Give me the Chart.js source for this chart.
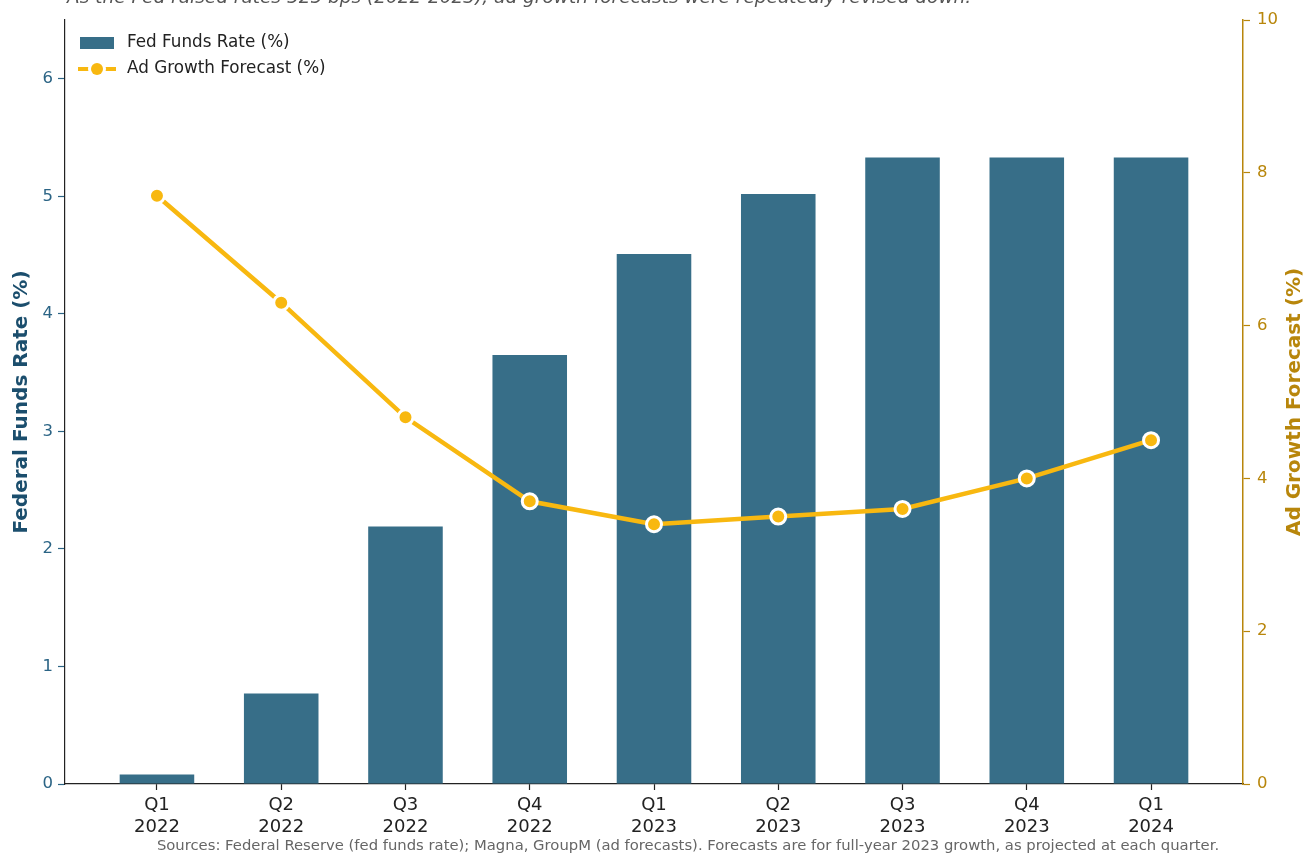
<!DOCTYPE html>
<html>
<head>
<meta charset="utf-8">
<script src="https://cdn.jsdelivr.net/npm/chart.js@4.4.1/dist/chart.umd.min.js"></script>
<style>
  html, body { margin: 0; padding: 0; background: #fff; }
  #wrap { width: 1306px; height: 853px; position: relative; }
</style>
</head>
<body>
<div id="wrap"><canvas id="rateChart" width="1306" height="853"></canvas></div>
<script>
// quarters and years (two-line tick labels)
const quarters = ['Q1', 'Q2', 'Q3', 'Q4', 'Q1', 'Q2', 'Q3', 'Q4', 'Q1'];
const years = ['2022', '2022', '2022', '2022', '2023', '2023', '2023', '2023', '2024'];
// fed funds rate, % (left axis)
const fedRate = [0.08, 0.77, 2.19, 3.65, 4.51, 5.02, 5.33, 5.33, 5.33];
// ad growth forecast for full-year 2023, % (right axis)
const adGrowth = [7.7, 6.3, 4.8, 3.7, 3.4, 3.5, 3.6, 4.0, 4.5];
const leftTicks = [0, 1, 2, 3, 4, 5, 6];
const rightTicks = [0, 2, 4, 6, 8, 10];

const subtitle = 'As the Fed raised rates 525 bps (2022-2023), ad growth forecasts were repeatedly revised down.';
const sourceNote = 'Sources: Federal Reserve (fed funds rate); Magna, GroupM (ad forecasts). Forecasts are for full-year 2023 growth, as projected at each quarter.';
const rightTitle = 'Ad Growth Forecast (%)';

const BAR = '#376E88';
const GOLD_LINE = '#F8B810';
const GOLD_AXIS = '#B8860B';
const BLUE_TICK = '#2B6485';
const BLUE_TITLE = '#1B4E6D';
const FONT = "'DejaVu Sans', sans-serif";

// texts around the plot + legend drawn inside the axes (matplotlib-like)
const extras = {
  id: 'extras',
  afterDraw(chart) {
    const ctx = chart.ctx;
    const area = chart.chartArea;
    ctx.save();
    // subtitle, partly cut by the top edge
    ctx.font = 'italic 18.5px ' + FONT;
    ctx.fillStyle = '#555';
    ctx.textAlign = 'left';
    ctx.textBaseline = 'alphabetic';
    ctx.fillText(subtitle, 67, 3);
    // sources
    ctx.font = '14.8px ' + FONT;
    ctx.fillStyle = '#666';
    ctx.textAlign = 'center';
    ctx.textBaseline = 'middle';
    ctx.fillText(sourceNote, 688, 846);

    // right axis title, reading bottom to top
    ctx.save();
    ctx.translate(1295, (area.top + area.bottom) / 2);
    ctx.rotate(-Math.PI / 2);
    ctx.font = 'bold 20px ' + FONT;
    ctx.fillStyle = GOLD_AXIS;
    ctx.textAlign = 'center';
    ctx.textBaseline = 'middle';
    ctx.fillText(rightTitle, 0, 0);
    ctx.restore();

    // legend
    const ds = chart.data.datasets;
    const lx = area.left + 15;
    ctx.fillStyle = ds[0].backgroundColor;
    ctx.fillRect(lx, 37, 34, 12);
    ctx.strokeStyle = ds[1].borderColor;
    ctx.lineWidth = 4;
    ctx.beginPath();
    ctx.moveTo(lx - 2, 69);
    ctx.lineTo(lx + 36, 69);
    ctx.stroke();
    ctx.fillStyle = '#fff';
    ctx.beginPath();
    ctx.arc(lx + 17, 69, 9, 0, Math.PI * 2);
    ctx.fill();
    ctx.fillStyle = ds[1].borderColor;
    ctx.beginPath();
    ctx.arc(lx + 17, 69, 6, 0, Math.PI * 2);
    ctx.fill();
    ctx.font = '16.8px ' + FONT;
    ctx.fillStyle = '#222';
    ctx.textAlign = 'left';
    ctx.fillText(ds[0].label, lx + 47, 43);
    ctx.fillText(ds[1].label, lx + 47, 69);
    ctx.restore();
  }
};

new Chart(document.getElementById('rateChart'), {
  data: {
    datasets: [
      {
        type: 'bar',
        label: 'Fed Funds Rate (%)',
        data: fedRate.map((v, i) => ({ x: i, y: v })),
        backgroundColor: BAR,
        borderWidth: 0,
        barPercentage: 1,
        categoryPercentage: 0.6,
        yAxisID: 'y',
        order: 2
      },
      {
        type: 'line',
        label: 'Ad Growth Forecast (%)',
        data: adGrowth.map((v, i) => ({ x: i, y: v })),
        borderColor: GOLD_LINE,
        backgroundColor: GOLD_LINE,
        borderWidth: 4.5,
        tension: 0,
        pointRadius: 7.5,
        pointBorderWidth: 3,
        pointBorderColor: '#fff',
        pointBackgroundColor: GOLD_LINE,
        yAxisID: 'y1',
        order: 1
      }
    ]
  },
  options: {
    responsive: false,
    animation: false,
    layout: { padding: { top: 20, bottom: 0, left: 0, right: 0 } },
    plugins: {
      legend: { display: false },
      tooltip: { enabled: false }
    },
    scales: {
      x: {
        type: 'linear',
        min: -0.74,
        max: 8.74,
        offset: false,
        afterBuildTicks: (s) => { s.ticks = quarters.map((_, i) => ({ value: i })); },
        afterFit: (s) => { s.height = 69; },
        grid: { offset: false, drawOnChartArea: false, drawTicks: true, tickLength: 6, color: '#222', tickWidth: 1.2 },
        border: { display: true, color: '#222', width: 1.2 },
        ticks: {
          color: '#222',
          padding: 4,
          maxRotation: 0,
          font: { family: FONT, size: 18, lineHeight: 1.22 },
          callback: (v) => [quarters[v], years[v]]
        }
      },
      y: {
        position: 'left',
        min: 0,
        max: 6.5,
        afterBuildTicks: (s) => { s.ticks = leftTicks.map(v => ({ value: v })); },
        afterFit: (s) => { s.width = 65; },
        grid: { drawOnChartArea: false, drawTicks: true, tickLength: 7, color: BLUE_TICK, tickWidth: 1.2 },
        border: { display: true, color: '#222', width: 1.2 },
        ticks: { color: BLUE_TICK, padding: 5, font: { family: FONT, size: 16.5 } },
        title: {
          display: true,
          text: 'Federal Funds Rate (%)',
          color: BLUE_TITLE,
          padding: { top: 10, bottom: 0 },
          font: { family: FONT, size: 20, weight: 'bold' }
        }
      },
      y1: {
        position: 'right',
        min: 0,
        max: 10,
        afterBuildTicks: (s) => { s.ticks = rightTicks.map(v => ({ value: v })); },
        afterFit: (s) => { s.width = 63; },
        grid: { drawOnChartArea: false, drawTicks: true, tickLength: 7, color: GOLD_AXIS, tickWidth: 1.2 },
        border: { display: true, color: GOLD_AXIS, width: 1.5 },
        ticks: { color: GOLD_AXIS, padding: 7, font: { family: FONT, size: 16.5 } }
      }
    }
  },
  plugins: [extras]
});
</script>
</body>
</html>
